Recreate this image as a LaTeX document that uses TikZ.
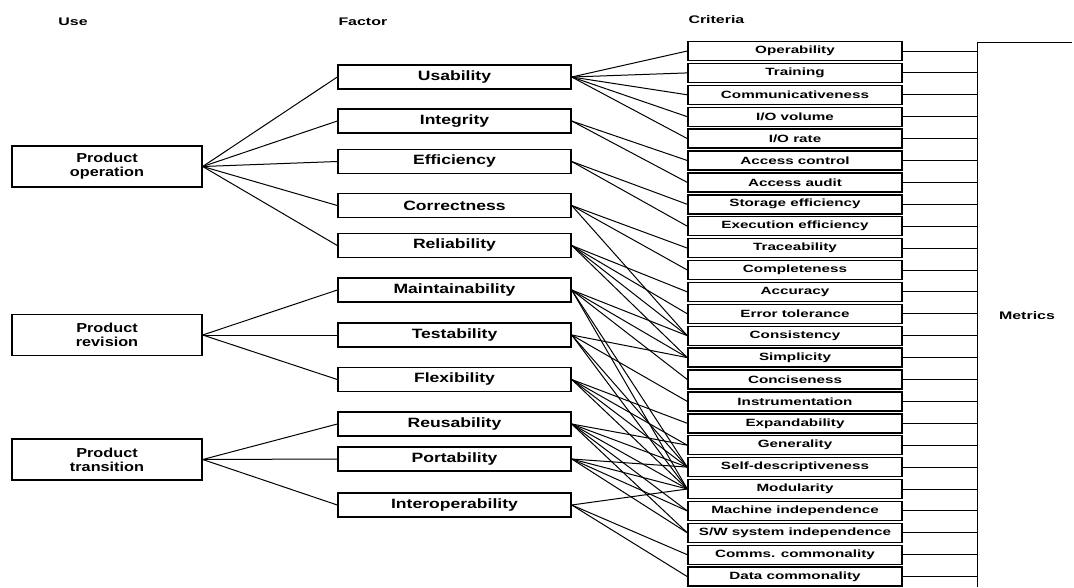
\documentclass[tikz,border=0pt]{standalone}
\usepackage{fontspec}
\setmainfont{Liberation Sans}
\newfontfamily\critfont[FakeStretch=1.45]{Liberation Sans}
\newfontfamily\facfont[FakeStretch=1.3]{Liberation Sans}
\newfontfamily\ucfont[FakeStretch=1.25]{Liberation Sans}
\begin{document}
\begin{tikzpicture}[x=1pt,y=-1pt,line width=1pt,
  box/.style={draw,line width=1.4pt,inner sep=0pt},
  usebox/.style={box,minimum width=190pt,minimum height=41pt,align=center,
    font=\ucfont\bfseries\fontsize{13}{14}\selectfont},
  facbox/.style={box,minimum width=233pt,minimum height=24pt,
    font=\facfont\bfseries\fontsize{13.5}{15}\selectfont},
  critbox/.style={box,minimum width=214pt,minimum height=19pt,
    font=\critfont\bfseries\fontsize{10.5}{12}\selectfont},
  head/.style={inner sep=0pt,font=\critfont\bfseries\fontsize{11}{12}\selectfont},
  link/.style={line width=1pt}]
\useasboundingbox (0,0) rectangle (1074,587);

% headers
\node[head] (hUse) at (73,22) {Use};
\node[head,anchor=west] (hFac) at (338,22) {Factor};
\node[head,anchor=west] (hCrit) at (688,20) {Criteria};

% use boxes
\node[usebox] (op)  at (107,166.5) {Product\\operation};
\node[usebox] (rev) at (107,335) {Product\\revision};
\node[usebox] (tr)  at (107,459.5) {Product\\transition};

% factor boxes
\node[facbox] (usa)   at (454.5,77)  {Usability};
\node[facbox] (integ) at (454.5,121) {Integrity};
\node[facbox] (eff)   at (454.5,161.5) {Efficiency};
\node[facbox] (corr)  at (454.5,205.5) {Correctness};
\node[facbox] (rel)   at (454.5,245.5) {Reliability};
\node[facbox] (maint) at (454.5,290) {Maintainability};
\node[facbox] (test)  at (454.5,335) {Testability};
\node[facbox] (flex)  at (454.5,379.5) {Flexibility};
\node[facbox] (reuse) at (454.5,424) {Reusability};
\node[facbox] (port)  at (454.5,459) {Portability};
\node[facbox] (inter) at (454.5,505) {Interoperability};

% criteria boxes
\def\cx{795}
\node[critbox] (oper)   at (\cx,51.0)  {Operability};
\node[critbox] (train)  at (\cx,72.9)  {Training};
\node[critbox] (comm)   at (\cx,94.8)  {Communicativeness};
\node[critbox] (iovol)  at (\cx,116.7) {I/O volume};
\node[critbox] (iorate) at (\cx,138.6) {I/O rate};
\node[critbox] (acctl)  at (\cx,160.5) {Access control};
\node[critbox] (accau)  at (\cx,182.4) {Access audit};
\node[critbox] (stor)   at (\cx,204.3) {Storage efficiency};
\node[critbox] (exec)   at (\cx,226.2) {Execution efficiency};
\node[critbox] (trace)  at (\cx,248.1) {Traceability};
\node[critbox] (compl)  at (\cx,270.0) {Completeness};
\node[critbox] (accur)  at (\cx,291.9) {Accuracy};
\node[critbox] (errtol) at (\cx,313.8) {Error tolerance};
\node[critbox] (cons)   at (\cx,335.7) {Consistency};
\node[critbox] (simp)   at (\cx,357.6) {Simplicity};
\node[critbox] (conc)   at (\cx,379.5) {Conciseness};
\node[critbox] (instr)  at (\cx,401.4) {Instrumentation};
\node[critbox] (expa)   at (\cx,423.3) {Expandability};
\node[critbox] (gen)    at (\cx,445.2) {Generality};
\node[critbox] (selfd)  at (\cx,467.1) {Self-descriptiveness};
\node[critbox] (modu)   at (\cx,489.0) {Modularity};
\node[critbox] (machi)  at (\cx,510.9) {Machine independence};
\node[critbox] (swsys)  at (\cx,532.8) {S/W system independence};
\node[critbox] (commc)  at (\cx,554.7) {Comms. commonality};
\node[critbox] (datac)  at (\cx,576.6) {Data commonality};

% use -> factor
\foreach \f in {usa,integ,eff,corr,rel} \draw[link] (op.east) -- (\f.west);
\foreach \f in {maint,test,flex} \draw[link] (rev.east) -- (\f.west);
\foreach \f in {reuse,port,inter} \draw[link] (tr.east) -- (\f.west);

% factor -> criteria
\foreach \c in {oper,train,comm,iovol,iorate} \draw[link] (usa.east) -- (\c.west);
\foreach \c in {acctl,accau} \draw[link] (integ.east) -- (\c.west);
\foreach \c in {stor,exec} \draw[link] (eff.east) -- (\c.west);
\foreach \c in {trace,compl,cons} \draw[link] (corr.east) -- (\c.west);
\foreach \c in {accur,errtol,cons,simp} \draw[link] (rel.east) -- (\c.west);
\foreach \c in {cons,simp,conc,selfd,modu} \draw[link] (maint.east) -- (\c.west);
\foreach \c in {simp,instr,selfd,modu} \draw[link] (test.east) -- (\c.west);
\foreach \c in {expa,gen,selfd,modu} \draw[link] (flex.east) -- (\c.west);
\foreach \c in {gen,selfd,modu,machi,swsys} \draw[link] (reuse.east) -- (\c.west);
\foreach \c in {selfd,modu,machi,swsys} \draw[link] (port.east) -- (\c.west);
\foreach \c in {modu,commc,datac} \draw[link] (inter.east) -- (\c.west);

% metrics bar
\coordinate (bartop) at (977,42);
\coordinate (barbot) at (977,587);
\coordinate (topend) at (1072,42);
\draw[link] (barbot) -- (bartop) -- (topend);
\foreach \c in {oper,train,comm,iovol,iorate,acctl,accau,stor,exec,trace,compl,accur,errtol,cons,simp,conc,instr,expa,gen,selfd,modu,machi,swsys,commc,datac}
  \draw[link] (\c.east) -- (\c.east -| bartop);
\node[head] (metrics) at (1027,316) {Metrics};
\end{tikzpicture}
\end{document}
